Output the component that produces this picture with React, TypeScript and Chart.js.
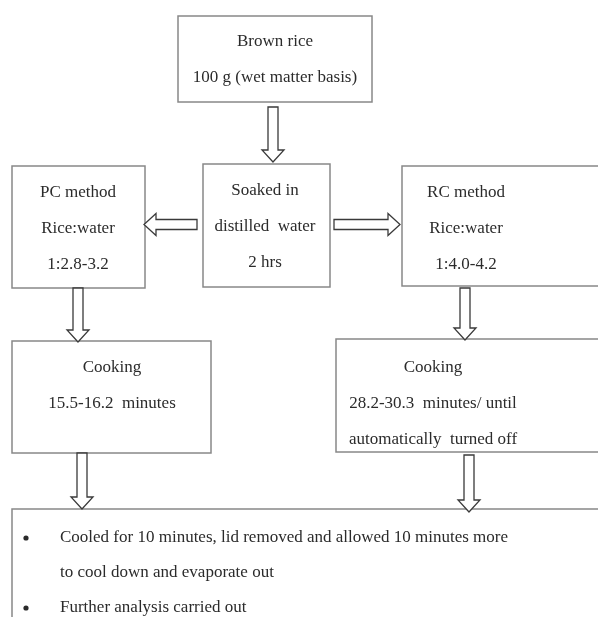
import React, { useEffect, useRef } from "react";
import { Chart, registerables } from "chart.js";

Chart.register(...registerables);

// Flowchart content (text of each step)
const stepTexts: string[][] = [
  ["Brown rice", "100 g (wet matter basis)"],
  ["Soaked in", "distilled  water", "2 hrs"],
  ["PC method", "Rice:water", "1:2.8-3.2"],
  ["RC method", "Rice:water", "1:4.0-4.2"],
  ["Cooking", "15.5-16.2  minutes"],
  ["Cooking", "28.2-30.3  minutes/ until", "automatically  turned off"],
];
const finalBullets: string[][] = [
  ["Cooled for 10 minutes, lid removed and allowed 10 minutes more", "to cool down and evaporate out"],
  ["Further analysis carried out"],
];

// Layout in a 598 x 617 coordinate space (drawn through the chart's scales)
const boxLeft = [178, 203, 12, 402, 12, 336];
const boxTop = [16, 164, 166, 166, 341, 339];
const boxRight = [372, 330, 145, 620, 211, 620];
const boxBottom = [102, 287, 288, 286, 453, 452];
const textCenterX = [275, 265, 78, 466, 112, 433];
const firstLineY = [42, 191, 193, 193, 368, 368];
const lineStep = 36;

const finalBox = { left: 12, top: 509, right: 620, bottom: 640 };
const bulletX = 26;
const bulletTextX = 60;
const bulletLineY = [538, 573, 608];

// Block arrows: [fromX, fromY, tipX, tipY]
const arrows: number[][] = [
  [273, 107, 273, 162],
  [197, 224.5, 144, 224.5],
  [334, 224.5, 400, 224.5],
  [78, 288, 78, 342],
  [465, 288, 465, 340],
  [82, 453, 82, 509],
  [469, 455, 469, 512],
];

const FONT = '17px "Liberation Serif", "Times New Roman", serif';
const TEXT_COLOR = "#2b2b2b";
const BOX_COLOR = "#888888";
const ARROW_COLOR = "#3a3a3a";

const flowPlugin = {
  id: "flow",
  afterDraw(chart: any) {
    const ctx = chart.ctx as CanvasRenderingContext2D;
    const xs = chart.scales.x;
    const ys = chart.scales.y;
    const px = (v: number) => xs.getPixelForValue(v);
    const py = (v: number) => ys.getPixelForValue(v);
    ctx.save();

    // boxes
    ctx.strokeStyle = BOX_COLOR;
    ctx.lineWidth = 1.5;
    const drawBox = (l: number, t: number, r: number, b: number) => {
      ctx.fillStyle = "#ffffff";
      ctx.fillRect(px(l), py(t), px(r) - px(l), py(b) - py(t));
      ctx.strokeRect(px(l), py(t), px(r) - px(l), py(b) - py(t));
    };
    stepTexts.forEach((lines, i) => {
      drawBox(boxLeft[i], boxTop[i], boxRight[i], boxBottom[i]);
      ctx.fillStyle = TEXT_COLOR;
      ctx.font = FONT;
      ctx.textAlign = "center";
      ctx.textBaseline = "middle";
      lines.forEach((s, j) => {
        ctx.fillText(s, px(textCenterX[i]), py(firstLineY[i] + j * lineStep));
      });
    });

    drawBox(finalBox.left, finalBox.top, finalBox.right, finalBox.bottom);
    ctx.fillStyle = TEXT_COLOR;
    ctx.font = FONT;
    ctx.textAlign = "left";
    ctx.textBaseline = "middle";
    let k = 0;
    finalBullets.forEach((lines) => {
      ctx.beginPath();
      ctx.arc(px(bulletX), py(bulletLineY[k]), 2.6, 0, Math.PI * 2);
      ctx.fill();
      lines.forEach((s) => {
        ctx.fillText(s, px(bulletTextX), py(bulletLineY[k]));
        k++;
      });
    });

    // block arrows
    ctx.strokeStyle = ARROW_COLOR;
    ctx.lineWidth = 1.3;
    ctx.lineJoin = "miter";
    arrows.forEach(([fx, fy, tx, ty]) => {
      const x0 = px(fx), y0 = py(fy), x1 = px(tx), y1 = py(ty);
      const dx = x1 - x0, dy = y1 - y0;
      const len = Math.hypot(dx, dy);
      const ux = dx / len, uy = dy / len;
      const nx = -uy, ny = ux;
      const sw = 5, hw = 11, hl = 12;
      const bx = x1 - ux * hl, by = y1 - uy * hl;
      const pts = [
        [x0 + nx * sw, y0 + ny * sw],
        [bx + nx * sw, by + ny * sw],
        [bx + nx * hw, by + ny * hw],
        [x1, y1],
        [bx - nx * hw, by - ny * hw],
        [bx - nx * sw, by - ny * sw],
        [x0 - nx * sw, y0 - ny * sw],
      ];
      ctx.beginPath();
      ctx.moveTo(pts[0][0], pts[0][1]);
      for (let i = 1; i < pts.length; i++) ctx.lineTo(pts[i][0], pts[i][1]);
      ctx.closePath();
      ctx.fillStyle = "#ffffff";
      ctx.fill();
      ctx.stroke();
    });

    ctx.restore();
  },
};

export default function App() {
  const ref = useRef<HTMLCanvasElement | null>(null);
  useEffect(() => {
    if (!ref.current) return;
    const chart = new Chart(ref.current, {
      type: "scatter",
      data: { datasets: [{ data: [], pointRadius: 0 }] },
      options: {
        animation: false,
        responsive: false,
        maintainAspectRatio: false,
        layout: { padding: 0 },
        plugins: { legend: { display: false }, tooltip: { enabled: false } },
        scales: {
          x: { type: "linear", min: 0, max: 598, display: false },
          y: { type: "linear", min: 0, max: 617, reverse: true, display: false },
        },
      },
      plugins: [flowPlugin],
    });
    return () => chart.destroy();
  }, []);
  return (
    <div style={{ position: "fixed", left: 0, top: 0, width: 598, height: 617, background: "#ffffff" }}>
      <canvas ref={ref} width={598} height={617} style={{ width: 598, height: 617, display: "block" }} />
    </div>
  );
}
